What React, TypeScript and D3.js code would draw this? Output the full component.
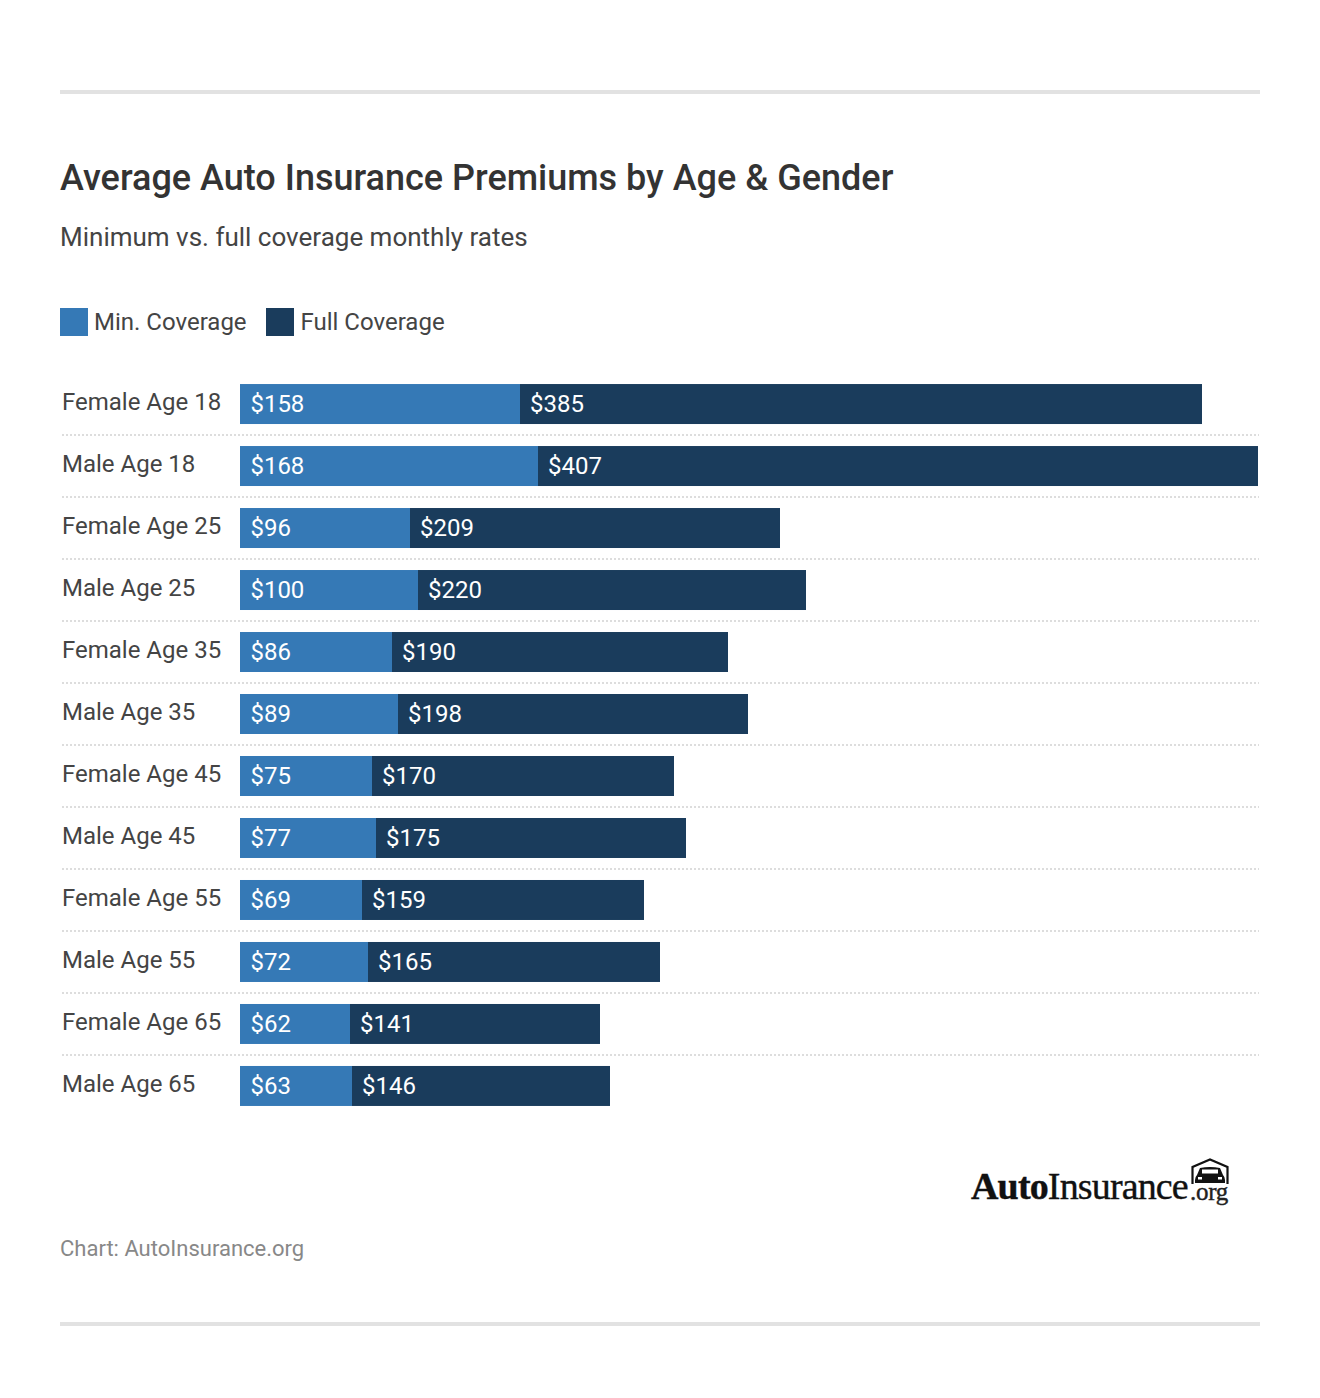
import React from "react";
import * as d3 from "d3";

const categories = ["Female Age 18","Male Age 18","Female Age 25","Male Age 25","Female Age 35","Male Age 35","Female Age 45","Male Age 45","Female Age 55","Male Age 55","Female Age 65","Male Age 65"];
const minCoverage = [158,168,96,100,86,89,75,77,69,72,62,63];
const fullCoverage = [385,407,209,220,190,198,170,175,159,165,141,146];
const legendLabels = ["Min. Coverage","Full Coverage"];
const MIN_COLOR = "#3579b6";
const FULL_COLOR = "#1a3c5c";
const FONT = "Roboto, sans-serif";

export default function App() {
  const x = d3.scaleLinear().domain([0, 575]).range([240, 1258]);
  const snap = (v: number) => Math.round(x(v) / 2) * 2;
  const y = d3.scaleBand<number>().domain(d3.range(categories.length)).range([373, 1117]).paddingInner(0.355).paddingOuter(0.178);
  const step = y.step();
  const rows = d3.range(categories.length);
  return (
    <svg width={1320} height={1398} style={{ position: "absolute", left: 0, top: 0, background: "#fff" }} fontFamily={FONT}>
      <rect x={60} y={90} width={1200} height={4} fill="#e2e2e2" />
      <rect x={60} y={1322} width={1200} height={4} fill="#e2e2e2" />
      <text x={60} y={190} fontSize={36} fontWeight={500} fill="#333">Average Auto Insurance Premiums by Age &amp; Gender</text>
      <text x={60} y={246} fontSize={26} fill="#444">Minimum vs. full coverage monthly rates</text>
      <rect x={60} y={308} width={28} height={28} fill={MIN_COLOR} />
      <text x={94} y={330} fontSize={24} fill="#444">{legendLabels[0]}</text>
      <rect x={266} y={308} width={28} height={28} fill={FULL_COLOR} />
      <text x={300.5} y={330} fontSize={24} fill="#444">{legendLabels[1]}</text>
      {rows.map((i) => {
        const top = y(i)!;
        const bh = y.bandwidth();
        const x0 = snap(0);
        const x1 = snap(minCoverage[i]);
        const x2 = snap(minCoverage[i] + fullCoverage[i]);
        const lineY = top + bh + step * 0.178;
        return (
          <g key={categories[i]}>
            <text x={62} y={top + 26} fontSize={24} fill="#444">{categories[i]}</text>
            <rect x={x0} y={top} width={x1 - x0} height={bh} fill={MIN_COLOR} />
            <rect x={x1} y={top} width={x2 - x1} height={bh} fill={FULL_COLOR} />
            <text x={x0 + 10.4} y={top + 28} fontSize={24} fill="#fff">${minCoverage[i]}</text>
            <text x={x1 + 10} y={top + 28} fontSize={24} fill="#fff">${fullCoverage[i]}</text>
            {i < rows.length - 1 && (
              <line x1={62} x2={1259} y1={lineY} y2={lineY} stroke="#ddd" strokeWidth={2} strokeDasharray="2 2" />
            )}
          </g>
        );
      })}
      <text x={60} y={1256} fontSize={22} fill="#888">Chart: AutoInsurance.org</text>
      <g>
        <text x={971} y={1199} fontSize={38} fontFamily="'Liberation Serif', serif" fill="#111" stroke="#111" strokeWidth={0.4} letterSpacing={-0.85}>
          <tspan fontWeight={700}>Auto</tspan><tspan>Insurance</tspan>
        </text>
        <text x={1190} y={1200} fontSize={25} fontFamily="'Liberation Serif', serif" fill="#222" stroke="#222" strokeWidth={0.4} letterSpacing={-0.3}>.org</text>
        <path d="M1192.5 1184 V1167 L1210 1159.5 L1227.5 1167 V1184" fill="none" stroke="#111" strokeWidth={2.2} />
        <path d="M1197 1175 L1200 1168 Q1210 1166 1220 1168 L1223 1175 Q1225 1177 1225 1180 V1183 H1195 V1180 Q1195 1177 1197 1175 Z" fill="#111" />
        <rect x={1202} y={1169.5} width={16} height={4} fill="#fff" />
        <rect x={1198} y={1177} width={4} height={2.5} fill="#fff" />
        <rect x={1218} y={1177} width={4} height={2.5} fill="#fff" />
      </g>
    </svg>
  );
}
